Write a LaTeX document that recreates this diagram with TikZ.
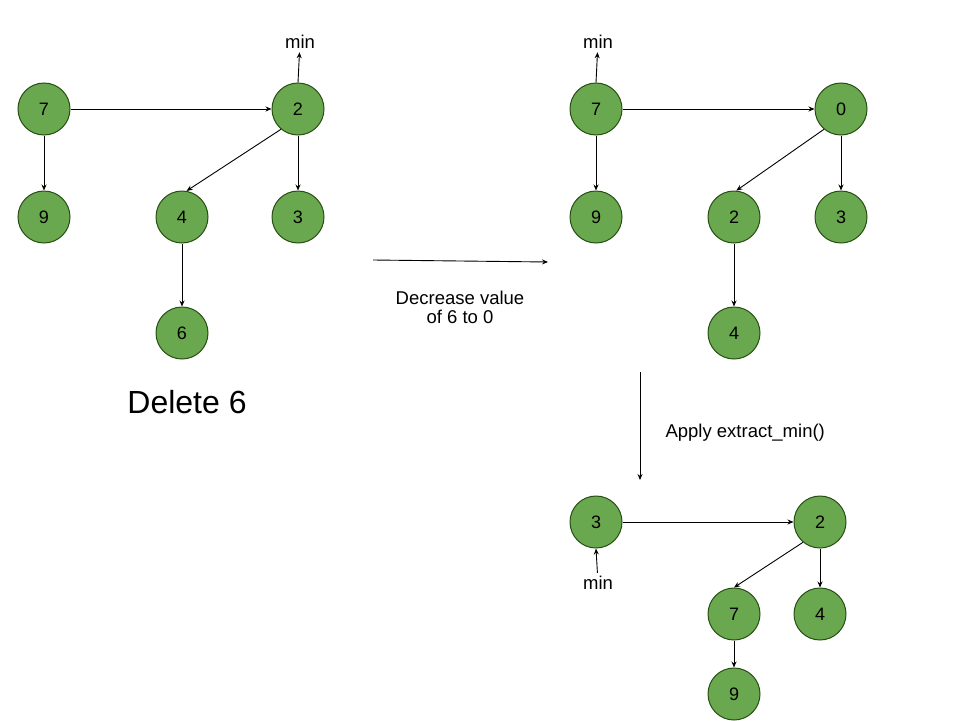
\documentclass[tikz,border=0pt]{standalone}
\usepackage{fontspec}
\setmainfont{Liberation Sans}
\usepackage{xcolor}
\usepackage{tikz}
\usetikzlibrary{arrows.meta}

\definecolor{nodegreen}{HTML}{6AA84F}
\definecolor{nodeedge}{HTML}{274E13}

\begin{document}
\begin{tikzpicture}[x=1pt,y=-1pt,
  heap/.style={circle,draw=nodeedge,fill=nodegreen,line width=1pt,minimum size=52pt,inner sep=0pt,font=\fontsize{18}{21}\selectfont},
  link/.style={-{Stealth[length=6pt,width=5pt]},line width=0.9pt},
  note/.style={font=\fontsize{18.5}{19}\selectfont,align=center}]
  \useasboundingbox (0,0) rectangle (960,720);
  % before: delete 6
  \node[heap] (a7) at (44,109) {7};
  \node[heap] (a2) at (298,109) {2};
  \node[heap] (a9) at (44,217) {9};
  \node[heap] (a4) at (182,217) {4};
  \node[heap] (a3) at (298,217) {3};
  \node[heap] (a6) at (182,333) {6};
  \node[note] (amin) at (300,42) {min};
  \draw[link] (a7) -- (a2);
  \draw[link] (a7) -- (a9);
  \draw[link] (a2.230) -- (a4.80);
  \draw[link] (a2) -- (a3);
  \draw[link] (a4) -- (a6);
  \draw[link] (a2.north) -- (amin);
  \node[font=\fontsize{32}{38}\selectfont] (del) at (187,402) {Delete 6};

  % decrease key
  \coordinate (s1) at (373,260);
  \coordinate (e1) at (548,262);
  \draw[link] (s1) -- (e1);
  \node[note] (dec) at (460,307) {Decrease value\\of 6 to 0};

  % after decrease
  \node[heap] (b7) at (596,109) {7};
  \node[heap] (b0) at (841,109) {0};
  \node[heap] (b9) at (596,217) {9};
  \node[heap] (b2) at (734,217) {2};
  \node[heap] (b3) at (841,217) {3};
  \node[heap] (b4) at (734,333) {4};
  \node[note] (bmin) at (598,42) {min};
  \draw[link] (b7) -- (b0);
  \draw[link] (b7) -- (b9);
  \draw[link] (b0.230) -- (b2.85);
  \draw[link] (b0) -- (b3);
  \draw[link] (b2) -- (b4);
  \draw[link] (b7.north) -- (bmin);

  % extract min
  \coordinate (s2) at (640,372);
  \coordinate (e2) at (640,480);
  \draw[link] (s2) -- (e2);
  \node[note,anchor=west] (ext) at (662,433) {Apply extract\_min()};

  % after extract_min
  \node[heap] (c3) at (596,522) {3};
  \node[heap] (c2) at (820,522) {2};
  \node[heap] (c7) at (734,614) {7};
  \node[heap] (c4) at (820,614) {4};
  \node[heap] (c9) at (734,694) {9};
  \node[note] (cmin) at (598,583) {min};
  \draw[link] (c3) -- (c2);
  \draw[link] (c2.230) -- (c7.90);
  \draw[link] (c2) -- (c4);
  \draw[link] (c7) -- (c9);
  \draw[link] (cmin) -- (c3.south);
\end{tikzpicture}
\end{document}
